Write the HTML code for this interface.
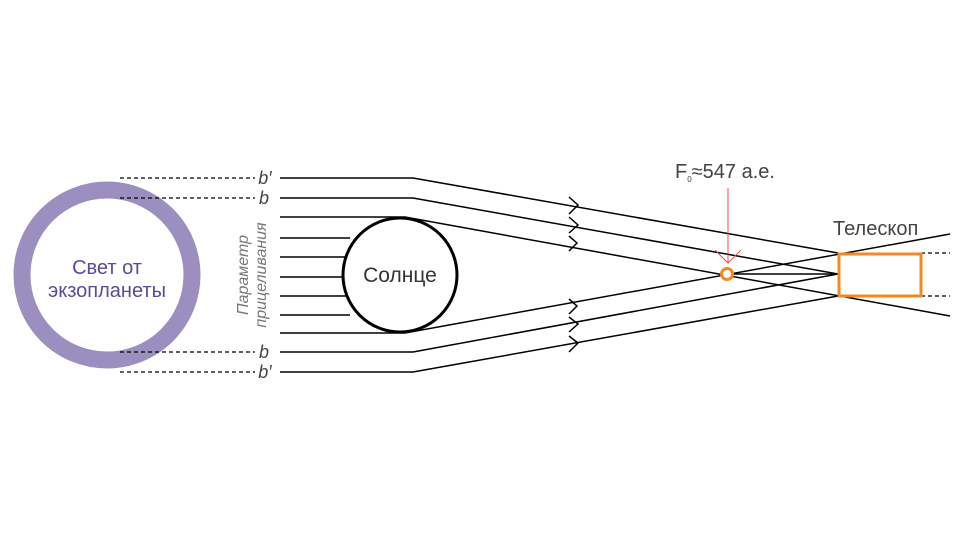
<!DOCTYPE html>
<html><head><meta charset="utf-8"><style>body{margin:0;background:#fff}svg{display:block}</style></head><body>
<svg width="968" height="544" viewBox="0 0 968 544" xmlns="http://www.w3.org/2000/svg" font-family="Liberation Sans, sans-serif">
<rect width="968" height="544" fill="#fff"/>
<circle cx="107" cy="275" r="85" fill="none" stroke="#9b8fc0" stroke-width="17"/>
<text x="107" y="274" text-anchor="middle" font-size="20" fill="#5b4a9b">Свет от</text>
<text x="107" y="297" text-anchor="middle" font-size="20" fill="#5b4a9b">экзопланеты</text>
<g stroke="#000" stroke-width="1.2" stroke-dasharray="4,3">
<line x1="120" y1="178" x2="255" y2="178"/><line x1="120" y1="198" x2="255" y2="198"/>
<line x1="120" y1="352" x2="255" y2="352"/><line x1="120" y1="372" x2="255" y2="372"/>
<line x1="921" y1="253" x2="950" y2="253"/><line x1="921" y1="296" x2="950" y2="296"/>
</g>
<g font-size="18" font-style="italic" fill="#444" text-anchor="middle">
<text x="265" y="184">b′</text><text x="264" y="204">b</text><text x="264" y="358">b</text><text x="265" y="378">b′</text>
</g>
<text transform="translate(248,275) rotate(-90)" text-anchor="middle" font-size="16" font-style="italic" fill="#777"><tspan x="0" dy="0">Параметр</tspan><tspan x="0" dy="18">прицеливания</tspan></text>
<g stroke="#000" stroke-width="1.5" fill="none">
<polyline points="280,178 413,178 838,253"/>
<polyline points="280,198 413,198 838,274"/>
<polyline points="280,217 405,217 950,316"/>
<polyline points="280,333 405,333 950,234"/>
<polyline points="280,352 413,352 838,274"/>
<polyline points="280,372 413,372 838,296"/>
<line x1="280" y1="238" x2="350" y2="238"/><line x1="280" y1="257" x2="346" y2="257"/>
<line x1="280" y1="277" x2="343" y2="277"/><line x1="280" y1="296" x2="346" y2="296"/>
<line x1="280" y1="315" x2="350" y2="315"/>
<line x1="727" y1="274" x2="838" y2="274"/>
<polyline points="569,197 578,205 569,214"/>
<polyline points="569,217 578,225 569,233"/>
<polyline points="569,236 577,243 569,251"/>
<polyline points="569,299 577,306 569,314"/>
<polyline points="569,317 578,324 569,332"/>
<polyline points="569,336 578,343 569,352"/>
</g>
<circle cx="400" cy="275" r="57" fill="#fff" stroke="#000" stroke-width="3"/>
<text x="400" y="282" text-anchor="middle" font-size="21" fill="#333">Солнце</text>
<line x1="728" y1="188" x2="728" y2="263" stroke="#e8505b" stroke-width="1"/>
<polyline points="715,250 728,263 741,250" fill="none" stroke="#e8505b" stroke-width="1"/>
<circle cx="727" cy="274" r="5.5" fill="#fff" stroke="#f28a24" stroke-width="3"/>
<rect x="839" y="254" width="82" height="42" fill="none" stroke="#f28a24" stroke-width="3"/>
<text x="675" y="178" font-size="20" fill="#444">F<tspan font-size="8" dy="4">0</tspan><tspan dy="-4">≈547 а.е.</tspan></text>
<text x="833" y="235" font-size="20" fill="#444">Телескоп</text>
</svg>
</body></html>
